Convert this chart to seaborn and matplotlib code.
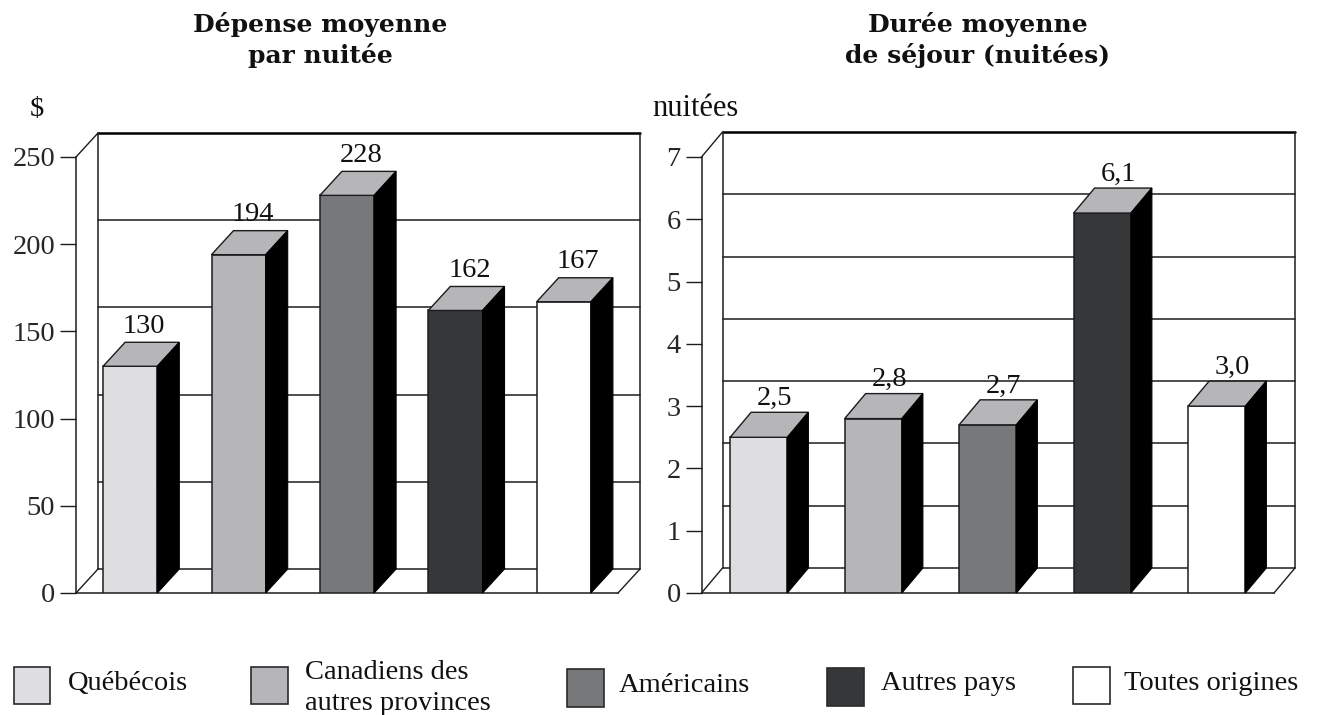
import matplotlib
matplotlib.use("Agg")
import matplotlib.pyplot as plt
from matplotlib.patches import Rectangle
import seaborn as sns

# Data
origins = ['Québécois', 'Canadiens des\nautres provinces', 'Américains', 'Autres pays', 'Toutes origines']
depense = [130, 194, 228, 162, 167]
duree = [2.5, 2.8, 2.7, 6.1, 3.0]
depense_ticks = [0, 50, 100, 150, 200, 250]
duree_ticks = [0, 1, 2, 3, 4, 5, 6, 7]
colors = ['#dedee0', '#b6b6b8', '#77787a', '#363739', '#ffffff']
top_color = '#b6b6b8'
line_color = '#1c1c1e'

W, H = 1318, 715
TEXT_SIZE = 20.5

sns.set_style('white')
plt.rcParams['font.family'] = ['Liberation Serif', 'DejaVu Serif']
plt.rcParams['text.color'] = '#111111'

fig = plt.figure(figsize=(W / 100, H / 100), dpi=100)


def fx(x):
    return x / W


def fy(y):
    return 1 - y / H


def draw_chart(left, right, top, bottom, values, ticks, fmt, depth_x, depth_y, label_shift, label_gap):
    # left/right/top/bottom are the front plane in pixels
    ax = fig.add_axes([fx(left), fy(bottom), (right - left) / W, (bottom - top) / H])
    ax.patch.set_alpha(0)
    n = len(values)
    ymax = ticks[-1]
    dx = depth_x / ((right - left) / n)
    dy = depth_y / ((bottom - top) / ymax)
    x0, x1 = -0.5, n - 0.5

    # back wall and floor
    for t in ticks[:-1]:
        ax.plot([x0 + dx, x1 + dx], [t + dy, t + dy], color=line_color, lw=1.1, clip_on=False, zorder=1)
    ax.plot([x0 + dx, x1 + dx], [ymax + dy, ymax + dy], color='black', lw=1.8, clip_on=False, zorder=1)
    ax.plot([x0 + dx, x0 + dx], [dy, ymax + dy], color=line_color, lw=1.1, clip_on=False, zorder=1)
    ax.plot([x1 + dx, x1 + dx], [dy, ymax + dy], color=line_color, lw=1.1, clip_on=False, zorder=1)
    ax.plot([x0, x0 + dx], [ymax, ymax + dy], color=line_color, lw=1, clip_on=False, zorder=1)
    ax.plot([x0, x0 + dx], [0, dy], color=line_color, lw=1, clip_on=False, zorder=1)
    ax.plot([x1, x1 + dx], [0, dy], color=line_color, lw=1, clip_on=False, zorder=1)

    sns.barplot(x=origins, y=values, hue=origins, palette=colors, dodge=False, width=0.5,
                edgecolor=line_color, linewidth=1.1, legend=False, ax=ax, zorder=3)
    w = 0.25
    for i, v in enumerate(values):
        ax.fill([i - w, i + w, i + w + dx, i - w + dx], [v, v, v + dy, v + dy],
                facecolor=top_color, edgecolor=line_color, lw=1, clip_on=False, zorder=3)
        ax.fill([i + w, i + w + dx, i + w + dx, i + w], [0, dy, v + dy, v],
                facecolor='black', edgecolor='black', lw=0.8, clip_on=False, zorder=3)
        ax.annotate(fmt(v), (i, v + dy), xytext=(label_shift * 0.72, label_gap), textcoords='offset points',
                    ha='center', va='baseline', fontsize=TEXT_SIZE, annotation_clip=False, zorder=4)

    ax.set_xlim(x0, x1)
    ax.set_ylim(0, ymax)
    ax.set_xticks([])
    ax.set_yticks(ticks)
    ax.set_yticklabels([str(t) for t in ticks], fontsize=TEXT_SIZE)
    ax.tick_params(axis='y', left=True, length=11.5, width=1, color=line_color, pad=3.5)
    ax.set_xlabel('')
    ax.set_ylabel('')
    sns.despine(ax=ax, top=True, right=True)
    for side in ['left', 'bottom']:
        ax.spines[side].set_color(line_color)
        ax.spines[side].set_linewidth(1.1)
    return ax


draw_chart(76, 618, 157, 593, depense, depense_ticks, str, 22, 24, 14, 6.8)
draw_chart(701.5, 1274, 157, 593, duree, duree_ticks, lambda v: f'{v:.1f}'.replace('.', ','), 21, 25, 16, 5.3)

# Titles and units
title_font = dict(family='DejaVu Serif', fontweight='bold', fontsize=18, ha='center', va='baseline')
fig.text(fx(320), fy(32), 'Dépense moyenne', **title_font)
fig.text(fx(320), fy(63), 'par nuitée', **title_font)
fig.text(fx(978), fy(32), 'Durée moyenne', **title_font)
fig.text(fx(978), fy(63), 'de séjour (nuitées)', **title_font)
fig.text(fx(30), fy(109), '$', fontsize=TEXT_SIZE, ha='left', va='center')
fig.text(fx(652), fy(109), 'nuitées', fontsize=TEXT_SIZE + 1.5, ha='left', va='center')

# Legend, placed by hand because the entries sit on uneven positions
swatch_x = [13.5, 251, 567, 827, 1073]
swatch_y = [666.5, 666.5, 669, 668, 666.5]
label_x = [68, 305, 619, 881, 1124]
label_y = [683, 688, 686, 683, 683]
for i, name in enumerate(origins):
    fig.add_artist(Rectangle((fx(swatch_x[i]), fy(swatch_y[i] + 37.5)), 37 / W, 37.5 / H,
                             transform=fig.transFigure, facecolor=colors[i],
                             edgecolor='#2a2a2c', linewidth=1.2))
    fig.text(fx(label_x[i]), fy(label_y[i]), name, fontsize=TEXT_SIZE, ha='left', va='center', linespacing=1.28)

fig.savefig('out.png', dpi=100)
